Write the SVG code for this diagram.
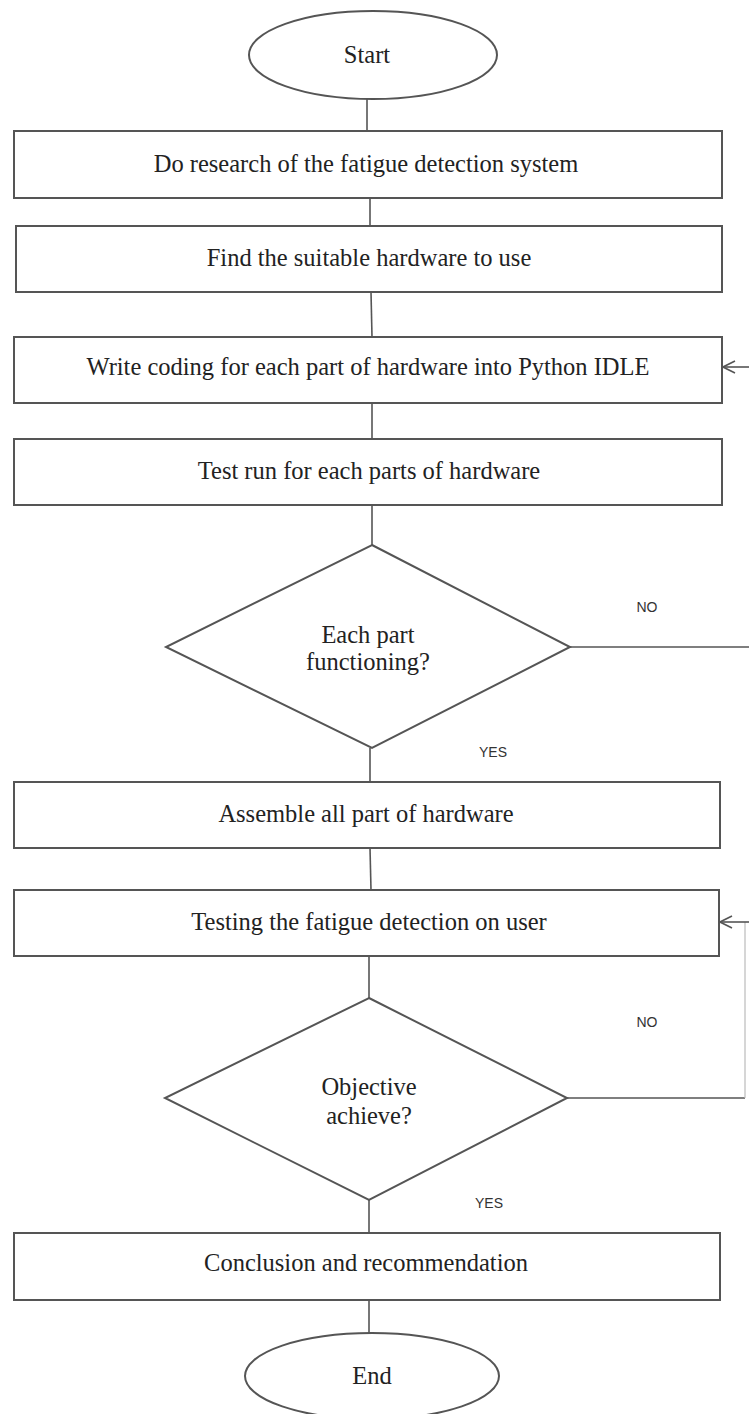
<svg xmlns="http://www.w3.org/2000/svg" width="749" height="1414" viewBox="0 0 749 1414">
<style>
.shape{fill:#fff;stroke:#555;stroke-width:2}
.conn{fill:none;stroke:#555;stroke-width:1.6}
.faint{fill:none;stroke:#bbb;stroke-width:1.2}
.t{font-family:"Liberation Serif","Times New Roman",serif;font-size:24.5px;fill:#222;text-anchor:middle}
.lbl{font-family:"Liberation Sans",Arial,sans-serif;font-size:14px;fill:#333;text-anchor:middle}
</style>
<defs>
<marker id="open" viewBox="0 0 14 14" refX="13" refY="7" markerWidth="14" markerHeight="14" markerUnits="userSpaceOnUse" orient="auto">
<path d="M1,1 L13,7 L1,13" fill="none" stroke="#555" stroke-width="1.6"/>
</marker>
</defs>
<rect width="749" height="1414" fill="#fff"/>
<g id="start">
<ellipse class="shape" cx="373" cy="55" rx="124" ry="44"/>
<text class="t" x="367" y="63">Start</text>
</g>
<g id="research">
<rect class="shape" x="14" y="131" width="708" height="67"/>
<text class="t" x="366" y="172">Do research of the fatigue detection system</text>
</g>
<g id="hardware">
<rect class="shape" x="16" y="226" width="706" height="66"/>
<text class="t" x="369" y="266">Find the suitable hardware to use</text>
</g>
<g id="coding">
<rect class="shape" x="14" y="337" width="708" height="66"/>
<text class="t" x="368" y="375">Write coding for each part of hardware into Python IDLE</text>
</g>
<g id="testrun">
<rect class="shape" x="14" y="439" width="708" height="66"/>
<text class="t" x="369" y="479">Test run for each parts of hardware</text>
</g>
<g id="decision1">
<polygon class="shape" points="372,545 570,647 372,748 166,647"/>
<text class="t" x="368" y="643">Each part</text>
<text class="t" x="368" y="670">functioning?</text>
</g>
<g id="assemble">
<rect class="shape" x="14" y="782" width="706" height="66"/>
<text class="t" x="366" y="822">Assemble all part of hardware</text>
</g>
<g id="testing">
<rect class="shape" x="14" y="890" width="705" height="66"/>
<text class="t" x="369" y="930">Testing the fatigue detection on user</text>
</g>
<g id="decision2">
<polygon class="shape" points="369,998 567,1098 369,1200 165,1098"/>
<text class="t" x="369" y="1095">Objective</text>
<text class="t" x="369" y="1124">achieve?</text>
</g>
<g id="conclusion">
<rect class="shape" x="14" y="1233" width="706" height="67"/>
<text class="t" x="366" y="1271">Conclusion and recommendation</text>
</g>
<g id="end">
<ellipse class="shape" cx="372" cy="1376" rx="127" ry="43"/>
<text class="t" x="372" y="1384">End</text>
</g>
<g id="connectors">
<line class="conn" x1="367" y1="99" x2="367" y2="131"/>
<line class="conn" x1="370" y1="198" x2="370" y2="226"/>
<line class="conn" x1="371" y1="292" x2="372" y2="337"/>
<line class="conn" x1="372" y1="403" x2="372" y2="439"/>
<line class="conn" x1="372" y1="505" x2="372" y2="545"/>
<line class="conn" x1="370" y1="748" x2="370" y2="782"/>
<line class="conn" x1="370" y1="848" x2="371" y2="890"/>
<line class="conn" x1="369" y1="956" x2="369" y2="998"/>
<line class="conn" x1="369" y1="1200" x2="369" y2="1233"/>
<line class="conn" x1="369" y1="1300" x2="369" y2="1333"/>
<polyline class="conn" points="570,647 752,647"/>
<line class="conn" x1="752" y1="367" x2="723" y2="367" marker-end="url(#open)"/>
<polyline class="conn" points="567,1098 745,1098"/>
<line class="faint" x1="745" y1="922" x2="745" y2="1098"/>
<line class="conn" x1="752" y1="922" x2="720" y2="922" marker-end="url(#open)"/>
<text class="lbl" x="647" y="612">NO</text>
<text class="lbl" x="493" y="757">YES</text>
<text class="lbl" x="647" y="1027">NO</text>
<text class="lbl" x="489" y="1208">YES</text>
</g>
</svg>
